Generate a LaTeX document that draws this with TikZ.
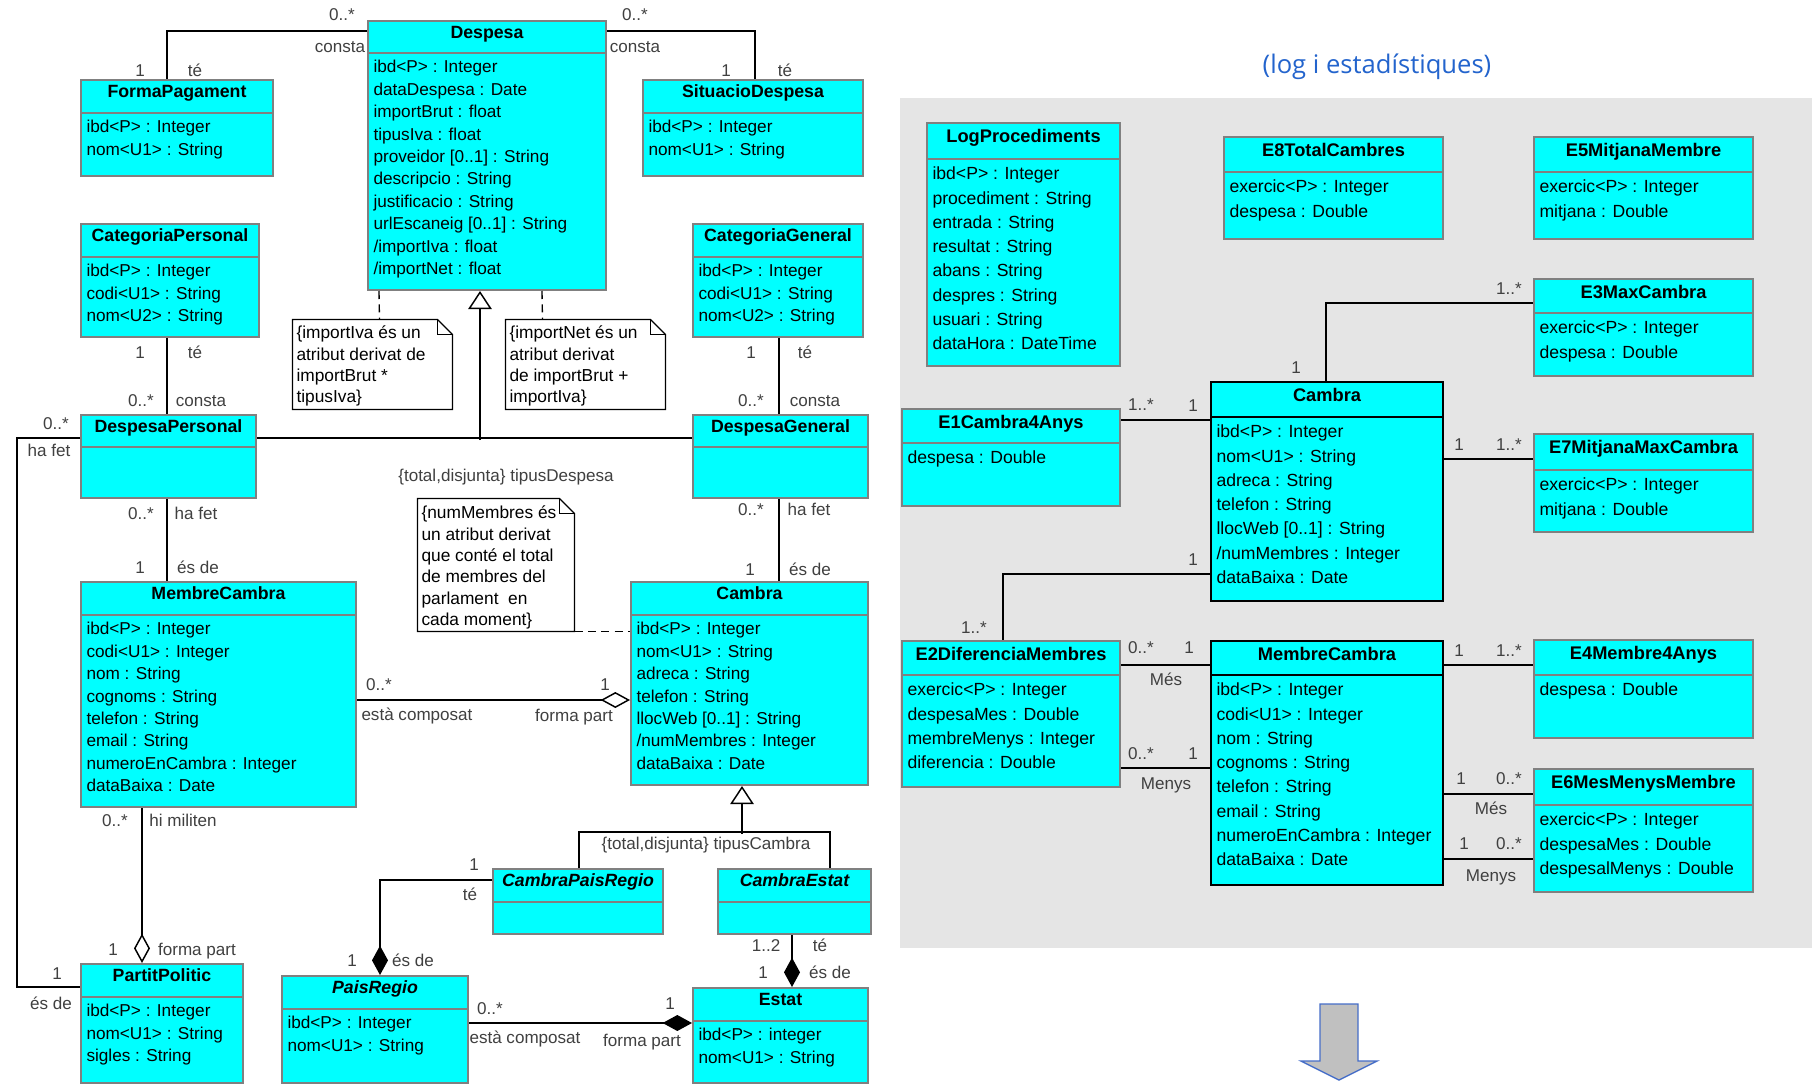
\documentclass[tikz,border=0pt]{standalone}
\usepackage{fontspec}
\setmainfont{Liberation Sans}
\newfontfamily\headfont{Open Sans}
\usetikzlibrary{arrows.meta,calc,fit}

\definecolor{umlcyan}{RGB}{0,255,255}
\definecolor{boxgray}{RGB}{128,128,128}
\definecolor{panelgray}{RGB}{229,229,229}
\definecolor{titleblue}{RGB}{35,100,205}
\definecolor{arrowgray}{RGB}{192,192,192}
\definecolor{arrowblue}{RGB}{70,110,200}

\tikzset{every picture/.style={line width=0.75pt}}
\tikzset{
  cls/.style={draw=boxgray, line width=1.5pt, fill=umlcyan, inner sep=0pt},
  clsdark/.style={cls, draw=black},
  hdr/.style={draw=boxgray, line width=1.5pt},
  hdrdark/.style={draw=black, line width=1.5pt},
  ttl/.style={anchor=base, inner sep=0pt, font=\fontsize{13.3}{16.8}\selectfont\bfseries},
  ttli/.style={ttl, font=\fontsize{13.3}{16.8}\selectfont\bfseries\itshape},
  attl/.style={anchor=north west, inner sep=0pt, align=left, font=\fontsize{12.9}{16.8}\selectfont},
  ttr/.style={ttl, font=\fontsize{13.7}{18.2}\selectfont\bfseries},
  attr/.style={attl, font=\fontsize{13.2}{18.2}\selectfont},
  lbl/.style={inner sep=0pt, text=black!75, font=\fontsize{12.8}{14}\selectfont, text height=9.5pt, text depth=2pt},
  assoc/.style={draw=black, line width=1.1pt},
  notebox/.style={inner sep=0pt},
  notetxt/.style={anchor=north west, inner sep=0pt, align=left, font=\fontsize{13}{16}\selectfont},
  dashln/.style={line width=1pt, dash pattern=on 6pt off 4pt},
  agg/.style={-{Diamond[open, length=22pt, width=12pt]}},
  comp/.style={-{Diamond[length=22pt, width=12pt]}},
  genl/.style={-{Triangle[open, length=13.5pt, width=17.5pt]}},
}

\begin{document}
\begin{tikzpicture}[x=0.75pt,y=0.75pt,yscale=-1,xscale=1]
\useasboundingbox (0,0) rectangle (1812,1088);
\fill[white] (0,0) rectangle (1812,1088);
%Shape: panel of log and statistics
\fill[panelgray] (900,98) rectangle (1812,948);
% Text Node
\node[font=\headfont\fontsize{19.2}{22}\selectfont, text=titleblue] (logtitle) at (1377,67) {(log i estadístiques)};

%Shape: Class Despesa
\node[cls, fit={(368,21) (606,290)}] (despesa) {};
\draw[hdr] (368,53) -- (606,53);
\node[ttl] (despesa-t) at (487,38.3) {Despesa};
\node[attl] (despesa-a) at (373,59.9) {ibd<P> : Integer\\dataDespesa : Date\\importBrut : float\\tipusIva : float\\proveidor [0..1] : String\\descripcio : String\\justificacio : String\\urlEscaneig [0..1] : String\\/importIva : float\\/importNet : float};

%Shape: Class FormaPagament
\node[cls, fit={(81,80) (273,176)}] (formapag) {};
\draw[hdr] (81,113) -- (273,113);
\node[ttl] (formapag-t) at (177,97.3) {FormaPagament};
\node[attl] (formapag-a) at (86,119.9) {ibd<P> : Integer\\nom<U1> : String};

%Shape: Class SituacioDespesa
\node[cls, fit={(643,80) (863,176)}] (situacio) {};
\draw[hdr] (643,113) -- (863,113);
\node[ttl] (situacio-t) at (753,97.3) {SituacioDespesa};
\node[attl] (situacio-a) at (648,119.9) {ibd<P> : Integer\\nom<U1> : String};

%Shape: Class CategoriaPersonal
\node[cls, fit={(81,224) (259,337)}] (catpers) {};
\draw[hdr] (81,257) -- (259,257);
\node[ttl] (catpers-t) at (170,241.3) {CategoriaPersonal};
\node[attl] (catpers-a) at (86,263.9) {ibd<P> : Integer\\codi<U1> : String\\nom<U2> : String};

%Shape: Class CategoriaGeneral
\node[cls, fit={(693,224) (863,337)}] (catgen) {};
\draw[hdr] (693,257) -- (863,257);
\node[ttl] (catgen-t) at (778,241.3) {CategoriaGeneral};
\node[attl] (catgen-a) at (698,263.9) {ibd<P> : Integer\\codi<U1> : String\\nom<U2> : String};

%Shape: Class DespesaPersonal
\node[cls, fit={(81,415) (256,498)}] (desppers) {};
\draw[hdr] (81,447) -- (256,447);
\node[ttl] (desppers-t) at (168.5,432.3) {DespesaPersonal};

%Shape: Class DespesaGeneral
\node[cls, fit={(693,415) (868,498)}] (despgen) {};
\draw[hdr] (693,447) -- (868,447);
\node[ttl] (despgen-t) at (780.5,432.3) {DespesaGeneral};

%Shape: Class MembreCambra
\node[cls, fit={(81,582) (356,807)}] (membre) {};
\draw[hdr] (81,615) -- (356,615);
\node[ttl] (membre-t) at (218.5,599.3) {MembreCambra};
\node[attl] (membre-a) at (86,621.9) {ibd<P> : Integer\\codi<U1> : Integer\\nom : String\\cognoms : String\\telefon : String\\email : String\\numeroEnCambra : Integer\\dataBaixa : Date};

%Shape: Class Cambra
\node[cls, fit={(631,582) (868,785)}] (cambra) {};
\draw[hdr] (631,615) -- (868,615);
\node[ttl] (cambra-t) at (749.5,599.3) {Cambra};
\node[attl] (cambra-a) at (636,621.9) {ibd<P> : Integer\\nom<U1> : String\\adreca : String\\telefon : String\\llocWeb [0..1] : String\\/numMembres : Integer\\dataBaixa : Date};

%Shape: Class CambraPaisRegio
\node[cls, fit={(493,869) (663,934)}] (cpr) {};
\draw[hdr] (493,902) -- (663,902);
\node[ttli] (cpr-t) at (578,886.3) {CambraPaisRegio};

%Shape: Class CambraEstat
\node[cls, fit={(718,869) (871,934)}] (cest) {};
\draw[hdr] (718,902) -- (871,902);
\node[ttli] (cest-t) at (794.5,886.3) {CambraEstat};

%Shape: Class PartitPolitic
\node[cls, fit={(81,964) (243,1083)}] (partit) {};
\draw[hdr] (81,997) -- (243,997);
\node[ttl] (partit-t) at (162,981.3) {PartitPolitic};
\node[attl] (partit-a) at (86,1003.9) {ibd<P> : Integer\\nom<U1> : String\\sigles : String};

%Shape: Class PaisRegio
\node[cls, fit={(282,976) (468,1083)}] (paisregio) {};
\draw[hdr] (282,1009) -- (468,1009);
\node[ttli] (paisregio-t) at (375,993.3) {PaisRegio};
\node[attl] (paisregio-a) at (287,1015.9) {ibd<P> : Integer\\nom<U1> : String};

%Shape: Class Estat
\node[cls, fit={(693,988) (868,1083)}] (estat) {};
\draw[hdr] (693,1021) -- (868,1021);
\node[ttl] (estat-t) at (780.5,1005.3) {Estat};
\node[attl] (estat-a) at (698,1027.9) {ibd<P> : integer\\nom<U1> : String};

%Shape: Notes
\node[notebox, fit={(293,320) (452,409)}] (note1) {};
\draw[line width=1pt, fill=white] (note1.north west) -- ($(note1.north east)+(-15,0)$) -- ($(note1.north east)+(0,15)$) -- (note1.south east) -- (note1.south west) -- cycle;
\draw[line width=1pt] ($(note1.north east)+(-15,0)$) |- ($(note1.north east)+(0,15)$);
\node[notetxt] (note1-t) at (296,325.6) {\{importIva és un\\atribut derivat de\\importBrut *\\tipusIva\}};

\node[notebox, fit={(506,320) (665,409)}] (note2) {};
\draw[line width=1pt, fill=white] (note2.north west) -- ($(note2.north east)+(-15,0)$) -- ($(note2.north east)+(0,15)$) -- (note2.south east) -- (note2.south west) -- cycle;
\draw[line width=1pt] ($(note2.north east)+(-15,0)$) |- ($(note2.north east)+(0,15)$);
\node[notetxt] (note2-t) at (509,325.6) {\{importNet és un\\atribut derivat\\de importBrut +\\importIva\}};

\node[notebox, fit={(418,499) (574,631)}] (note3) {};
\draw[line width=1pt, fill=white] (note3.north west) -- ($(note3.north east)+(-15,0)$) -- ($(note3.north east)+(0,15)$) -- (note3.south east) -- (note3.south west) -- cycle;
\draw[line width=1pt] ($(note3.north east)+(-15,0)$) |- ($(note3.north east)+(0,15)$);
\node[notetxt] (note3-t) at (421,505.6) {\{numMembres és\\un atribut derivat\\que conté el total\\de membres del\\parlament\ \ en\\cada moment\}};

%Dashed lines to notes
\draw[dashln] ($(despesa.south west)+(12,0)$) -- ($(note1.north west)+(87,0)$);
\draw[dashln] ($(despesa.south west)+(175,0)$) -- ($(note2.north west)+(37,0)$);
\draw[dashln] (note3.south east) -- (note3.south east -| cambra.west);

%Straight Lines: associations
\draw[assoc] ($(formapag.north west)+(87,0)$) |- ($(despesa.north west)+(0,11)$);
\node[lbl] (fp-m1) at (342,16) {0..*};
\node[lbl] (fp-r1) at (340,48) {consta};
\node[lbl] (fp-m2) at (140,71) {1};
\node[lbl] (fp-r2) at (195,71) {té};

\draw[assoc] ($(despesa.north east)+(0,11)$) -| ($(situacio.north west)+(113,0)$);
\node[lbl] (sd-m1) at (635,16) {0..*};
\node[lbl] (sd-r1) at (635,48) {consta};
\node[lbl] (sd-m2) at (726,71) {1};
\node[lbl] (sd-r2) at (785,71) {té};

\draw[assoc] ($(catpers.south west)+(87,0)$) -- ($(desppers.north west)+(87,0)$);
\node[lbl] (cp-m1) at (140,353) {1};
\node[lbl] (cp-r1) at (195,353) {té};
\node[lbl] (cp-m2) at (141,401) {0..*};
\node[lbl] (cp-r2) at (201,401) {consta};

\draw[assoc] ($(catgen.south west)+(87,0)$) -- ($(despgen.north west)+(87,0)$);
\node[lbl] (cg-m1) at (751,353) {1};
\node[lbl] (cg-r1) at (805,353) {té};
\node[lbl] (cg-m2) at (751,401) {0..*};
\node[lbl] (cg-r2) at (815,401) {consta};

\draw[assoc] ($(desppers.south west)+(87,0)$) -- ($(membre.north west)+(87,0)$);
\node[lbl] (dm-m1) at (141,514) {0..*};
\node[lbl] (dm-r1) at (196,514) {ha fet};
\node[lbl] (dm-m2) at (140,568) {1};
\node[lbl] (dm-r2) at (198,568) {és de};

\draw[assoc] ($(despgen.south west)+(87,0)$) -- ($(cambra.north west)+(149,0)$);
\node[lbl] (dc-m1) at (751,510) {0..*};
\node[lbl] (dc-r1) at (809,510) {ha fet};
\node[lbl] (dc-m2) at (750,570) {1};
\node[lbl] (dc-r2) at (810,570) {és de};

\draw[assoc] ($(desppers.north west)+(0,24)$) -- ++(-63,0) |- ($(partit.north west)+(0,24)$);
\node[lbl] (dp-m1) at (56,424) {0..*};
\node[lbl] (dp-r1) at (49,451) {ha fet};
\node[lbl] (dp-m2) at (57,974) {1};
\node[lbl] (dp-r2) at (51,1004) {és de};

\draw[assoc, agg] ($(membre.north east)+(0,119)$) -- ($(cambra.north west)+(0,119)$);
\node[lbl] (mc-m1) at (379,685) {0..*};
\node[lbl] (mc-r1) at (417,715) {està composat};
\node[lbl] (mc-r2) at (574,716) {forma part};
\node[lbl] (mc-m2) at (605,685) {1};

\draw[assoc, agg] ($(membre.south west)+(62,0)$) -- ($(partit.north west)+(62,0)$);
\node[lbl] (mp-m1) at (115,821) {0..*};
\node[lbl] (mp-r1) at (183,821) {hi militen};
\node[lbl] (mp-m2) at (113,950) {1};
\node[lbl] (mp-r2) at (197,950) {forma part};

\draw[assoc, comp] ($(cpr.north west)+(0,12)$) -| ($(paisregio.north west)+(99,0)$);
\node[lbl] (cr-m1) at (474,865) {1};
\node[lbl] (cr-r1) at (470,895) {té};
\node[lbl] (cr-m2) at (352,961) {1};
\node[lbl] (cr-r2) at (413,961) {és de};

\draw[assoc, comp] ($(cest.south west)+(75,0)$) -- ($(estat.north west)+(100,0)$);
\node[lbl] (ce-m1) at (766,946) {1..2};
\node[lbl] (ce-r1) at (820,946) {té};
\node[lbl] (ce-m2) at (763,973) {1};
\node[lbl] (ce-r2) at (830,973) {és de};

\draw[assoc, comp] ($(paisregio.north east)+(0,48)$) -- ($(estat.north west)+(0,36)$);
\node[lbl] (pe-m1) at (490,1009) {0..*};
\node[lbl] (pe-r1) at (525,1038) {està composat};
\node[lbl] (pe-r2) at (642,1041) {forma part};
\node[lbl] (pe-m2) at (670,1004) {1};

%Generalizations
\draw[assoc] ($(desppers.north east)+(0,24)$) -- ($(despgen.north west)+(0,24)$);
\draw[assoc, genl] ($(despesa.south west)+(113,149)$) -- ($(despesa.south west)+(113,0)$);
\node[lbl] (gen-d) at (506,476) {\{total,disjunta\} tipusDespesa};

\draw[assoc] ($(cpr.north west)+(87,0)$) -- ++(0,-36) -- ($(cest.north west)+(113,-36)$) -- ($(cest.north west)+(113,0)$);
\draw[assoc, genl] ($(cambra.south west)+(112,48)$) -- ($(cambra.south west)+(112,0)$);
\node[lbl] (gen-c) at (706,844) {\{total,disjunta\} tipusCambra};

%Shape: Class LogProcediments
\node[cls, fit={(927,123) (1120,366)}] (logproc) {};
\draw[hdr] (927,159) -- (1120,159);
\node[ttr] (logproc-t) at (1023.5,142.2) {LogProcediments};
\node[attr] (logproc-a) at (932,166.6) {ibd<P> : Integer\\procediment : String\\entrada : String\\resultat : String\\abans : String\\despres : String\\usuari : String\\dataHora : DateTime};

%Shape: Class E8TotalCambres
\node[cls, fit={(1224,137) (1443,239)}] (e8) {};
\draw[hdr] (1224,172) -- (1443,172);
\node[ttr] (e8-t) at (1333.5,156.2) {E8TotalCambres};
\node[attr] (e8-a) at (1229,179.6) {exercic<P> : Integer\\despesa : Double};

%Shape: Class E5MitjanaMembre
\node[cls, fit={(1534,137) (1753,239)}] (e5) {};
\draw[hdr] (1534,172) -- (1753,172);
\node[ttr] (e5-t) at (1643.5,156.2) {E5MitjanaMembre};
\node[attr] (e5-a) at (1539,179.6) {exercic<P> : Integer\\mitjana : Double};

%Shape: Class E3MaxCambra
\node[cls, fit={(1534,279) (1753,376)}] (e3) {};
\draw[hdr] (1534,313) -- (1753,313);
\node[ttr] (e3-t) at (1643.5,298.2) {E3MaxCambra};
\node[attr] (e3-a) at (1539,320.6) {exercic<P> : Integer\\despesa : Double};

%Shape: Class Cambra (statistics)
\node[clsdark, fit={(1211,382) (1443,601)}] (rcambra) {};
\draw[hdrdark] (1211,417) -- (1443,417);
\node[ttr] (rcambra-t) at (1327,401.2) {Cambra};
\node[attr] (rcambra-a) at (1216,424.6) {ibd<P> : Integer\\nom<U1> : String\\adreca : String\\telefon : String\\llocWeb [0..1] : String\\/numMembres : Integer\\dataBaixa : Date};

%Shape: Class E1Cambra4Anys
\node[cls, fit={(902,409) (1120,506)}] (e1) {};
\draw[hdr] (902,443) -- (1120,443);
\node[ttr] (e1-t) at (1011,428.2) {E1Cambra4Anys};
\node[attr] (e1-a) at (907,450.6) {despesa : Double};

%Shape: Class E7MitjanaMaxCambra
\node[cls, fit={(1534,434) (1753,532)}] (e7) {};
\draw[hdr] (1534,470) -- (1753,470);
\node[ttr] (e7-t) at (1643.5,453.2) {E7MitjanaMaxCambra};
\node[attr] (e7-a) at (1539,477.6) {exercic<P> : Integer\\mitjana : Double};

%Shape: Class E2DiferenciaMembres
\node[cls, fit={(902,641) (1120,787)}] (e2) {};
\draw[hdr] (902,675) -- (1120,675);
\node[ttr] (e2-t) at (1011,660.2) {E2DiferenciaMembres};
\node[attr] (e2-a) at (907,682.6) {exercic<P> : Integer\\despesaMes : Double\\membreMenys : Integer\\diferencia : Double};

%Shape: Class MembreCambra (statistics)
\node[clsdark, fit={(1211,641) (1443,885)}] (rmembre) {};
\draw[hdrdark] (1211,675) -- (1443,675);
\node[ttr] (rmembre-t) at (1327,660.2) {MembreCambra};
\node[attr] (rmembre-a) at (1216,682.6) {ibd<P> : Integer\\codi<U1> : Integer\\nom : String\\cognoms : String\\telefon : String\\email : String\\numeroEnCambra : Integer\\dataBaixa : Date};

%Shape: Class E4Membre4Anys
\node[cls, fit={(1534,640) (1753,738)}] (e4) {};
\draw[hdr] (1534,675) -- (1753,675);
\node[ttr] (e4-t) at (1643.5,659.2) {E4Membre4Anys};
\node[attr] (e4-a) at (1539,682.6) {despesa : Double};

%Shape: Class E6MesMenysMembre
\node[cls, fit={(1534,769) (1753,892)}] (e6) {};
\draw[hdr] (1534,805) -- (1753,805);
\node[ttr] (e6-t) at (1643.5,788.2) {E6MesMenysMembre};
\node[attr] (e6-a) at (1539,812.6) {exercic<P> : Integer\\despesaMes : Double\\despesalMenys : Double};

%Straight Lines: statistics associations
\draw[assoc] ($(rcambra.north west)+(116,0)$) |- ($(e3.north west)+(0,25)$);
\node[lbl] (e3-m1) at (1296,368) {1};
\node[lbl] (e3-m2) at (1509,289) {1..*};

\draw[assoc] ($(e1.north east)+(0,12)$) -- ($(rcambra.north west)+(0,39)$);
\node[lbl] (e1-m1) at (1141,405) {1..*};
\node[lbl] (e1-m2) at (1193,406) {1};

\draw[assoc] ($(rcambra.north east)+(0,78)$) -- ($(e7.north west)+(0,26)$);
\node[lbl] (e7-m1) at (1459,445) {1};
\node[lbl] (e7-m2) at (1509,445) {1..*};

\draw[assoc] ($(rcambra.north west)+(0,193)$) -| ($(e2.north west)+(102,0)$);
\node[lbl] (e2-m1) at (1193,560) {1};
\node[lbl] (e2-m2) at (974,628) {1..*};

\draw[assoc] ($(e2.north east)+(0,25)$) -- ($(rmembre.north west)+(0,25)$);
\node[lbl] (e2-m3) at (1141,648) {0..*};
\node[lbl] (e2-m4) at (1189,648) {1};
\node[lbl] (e2-r1) at (1166,680) {Més};

\draw[assoc] ($(e2.north east)+(0,128)$) -- ($(rmembre.north west)+(0,128)$);
\node[lbl] (e2-m5) at (1141,754) {0..*};
\node[lbl] (e2-m6) at (1193,754) {1};
\node[lbl] (e2-r2) at (1166,784) {Menys};

\draw[assoc] ($(rmembre.north east)+(0,25)$) -- ($(e4.north west)+(0,26)$);
\node[lbl] (e4-m1) at (1459,651) {1};
\node[lbl] (e4-m2) at (1509,651) {1..*};

\draw[assoc] ($(rmembre.north east)+(0,154)$) -- ($(e6.north west)+(0,26)$);
\node[lbl] (e6-m1) at (1461,779) {1};
\node[lbl] (e6-m2) at (1509,779) {0..*};
\node[lbl] (e6-r1) at (1491,809) {Més};

\draw[assoc] ($(rmembre.north east)+(0,219)$) -- ($(e6.north west)+(0,91)$);
\node[lbl] (e6-m3) at (1464,844) {1};
\node[lbl] (e6-m4) at (1509,844) {0..*};
\node[lbl] (e6-r2) at (1491,876) {Menys};

%Shape: down arrow
\draw[draw=arrowblue, fill=arrowgray, line width=1pt] (1320,1004) -- (1358,1004) -- (1358,1061) -- (1377,1061) -- (1339,1080) -- (1301,1061) -- (1320,1061) -- cycle;

\end{tikzpicture}
\end{document}
